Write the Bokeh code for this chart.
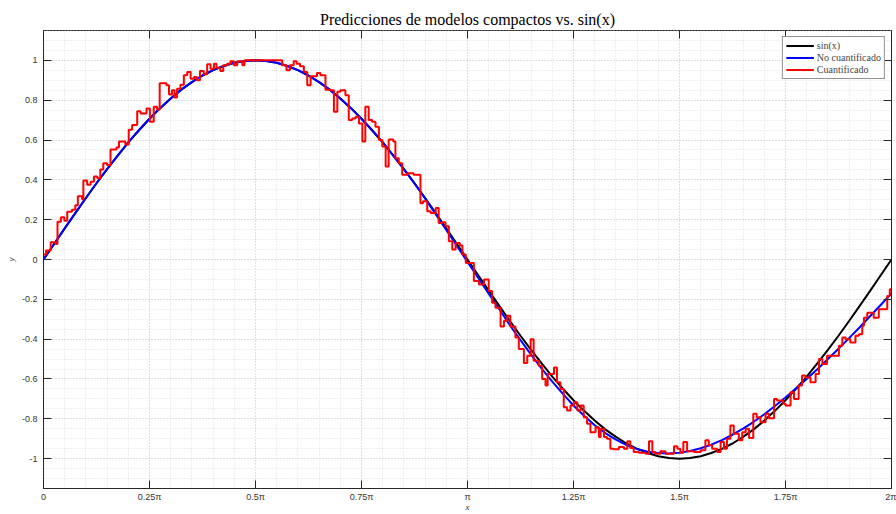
from bokeh.plotting import figure
from bokeh.models import Range1d, FixedTicker, LinearAxis, Legend, LegendItem
from bokeh.embed import file_html
from bokeh.resources import INLINE

# x in units of pi
curve_x = [0.000, 0.025, 0.050, 0.075, 0.100, 0.125, 0.150, 0.175, 0.200, 0.225,
           0.250, 0.275, 0.300, 0.325, 0.350, 0.375, 0.400, 0.425, 0.450, 0.475,
           0.500, 0.525, 0.550, 0.575, 0.600, 0.625, 0.650, 0.675, 0.700, 0.725,
           0.750, 0.775, 0.800, 0.825, 0.850, 0.875, 0.900, 0.925, 0.950, 0.975,
           1.000, 1.025, 1.050, 1.075, 1.100, 1.125, 1.150, 1.175, 1.200, 1.225,
           1.250, 1.275, 1.300, 1.325, 1.350, 1.375, 1.400, 1.425, 1.450, 1.475,
           1.500, 1.525, 1.550, 1.575, 1.600, 1.625, 1.650, 1.675, 1.700, 1.725,
           1.750, 1.775, 1.800, 1.825, 1.850, 1.875, 1.900, 1.925, 1.950, 1.975,
           2.000]

sin_y = [0.000, 0.078, 0.156, 0.233, 0.309, 0.383, 0.454, 0.522, 0.588, 0.649,
         0.707, 0.760, 0.809, 0.853, 0.891, 0.924, 0.951, 0.972, 0.988, 0.997,
         1.000, 0.997, 0.988, 0.972, 0.951, 0.924, 0.891, 0.853, 0.809, 0.760,
         0.707, 0.649, 0.588, 0.522, 0.454, 0.383, 0.309, 0.233, 0.156, 0.078,
         0.000, -0.078, -0.156, -0.233, -0.309, -0.383, -0.454, -0.522, -0.588, -0.649,
         -0.707, -0.760, -0.809, -0.853, -0.891, -0.924, -0.951, -0.972, -0.988, -0.997,
         -1.000, -0.997, -0.988, -0.972, -0.951, -0.924, -0.891, -0.853, -0.809, -0.760,
         -0.707, -0.649, -0.588, -0.522, -0.454, -0.383, -0.309, -0.233, -0.156, -0.078,
         0.000]

nq_y = [0.000, 0.078, 0.156, 0.233, 0.309, 0.383, 0.454, 0.522, 0.588, 0.649,
        0.707, 0.760, 0.809, 0.853, 0.891, 0.924, 0.951, 0.972, 0.988, 0.997,
        1.000, 0.997, 0.988, 0.972, 0.951, 0.924, 0.891, 0.853, 0.809, 0.760,
        0.707, 0.649, 0.588, 0.522, 0.454, 0.382, 0.307, 0.228, 0.148, 0.068,
        -0.012, -0.092, -0.172, -0.250, -0.330, -0.405, -0.478, -0.548, -0.613, -0.675,
        -0.733, -0.785, -0.832, -0.872, -0.905, -0.932, -0.952, -0.965, -0.972, -0.974,
        -0.970, -0.962, -0.948, -0.930, -0.907, -0.880, -0.849, -0.815, -0.777, -0.736,
        -0.693, -0.647, -0.600, -0.551, -0.500, -0.448, -0.395, -0.340, -0.284, -0.227,
        -0.170]

q_x = [0.000, 0.006, 0.017, 0.029, 0.033, 0.041, 0.049, 0.056, 0.067, 0.075,
       0.081, 0.091, 0.094, 0.103, 0.111, 0.119, 0.127, 0.134, 0.141, 0.150,
       0.158, 0.172, 0.178, 0.193, 0.201, 0.209, 0.221, 0.229, 0.243, 0.251,
       0.260, 0.268, 0.274, 0.290, 0.296, 0.303, 0.309, 0.315, 0.323, 0.331,
       0.339, 0.347, 0.355, 0.362, 0.369, 0.378, 0.386, 0.394, 0.402, 0.408,
       0.417, 0.424, 0.433, 0.441, 0.449, 0.457, 0.469, 0.474, 0.563, 0.573,
       0.581, 0.590, 0.597, 0.605, 0.614, 0.622, 0.630, 0.645, 0.653, 0.665,
       0.677, 0.685, 0.693, 0.700, 0.712, 0.720, 0.728, 0.736, 0.744, 0.752,
       0.759, 0.767, 0.775, 0.783, 0.791, 0.799, 0.807, 0.814, 0.825, 0.830,
       0.838, 0.846, 0.858, 0.873, 0.889, 0.895, 0.905, 0.913, 0.925, 0.932,
       0.940, 0.948, 0.956, 0.964, 0.972, 0.982, 0.988, 0.996, 1.015, 1.027,
       1.039, 1.050, 1.058, 1.066, 1.078, 1.086, 1.094, 1.101, 1.113, 1.121,
       1.133, 1.141, 1.149, 1.156, 1.168, 1.176, 1.184, 1.189, 1.204, 1.211,
       1.219, 1.227, 1.235, 1.243, 1.251, 1.259, 1.267, 1.274, 1.282, 1.290,
       1.302, 1.310, 1.314, 1.322, 1.329, 1.337, 1.345, 1.357, 1.369, 1.377,
       1.384, 1.392, 1.404, 1.420, 1.428, 1.436, 1.443, 1.455, 1.467, 1.487,
       1.495, 1.502, 1.509, 1.518, 1.534, 1.550, 1.561, 1.569, 1.577, 1.589,
       1.597, 1.605, 1.612, 1.620, 1.628, 1.640, 1.648, 1.656, 1.664, 1.674,
       1.682, 1.691, 1.703, 1.711, 1.723, 1.730, 1.745, 1.750, 1.762, 1.770,
       1.781, 1.789, 1.797, 1.809, 1.821, 1.829, 1.837, 1.848, 1.876, 1.884,
       1.892, 1.903, 1.915, 1.923, 1.931, 1.935, 1.943, 1.958, 1.970, 1.990,
       1.996, 2.000]

q_y = [0.025, 0.045, 0.087, 0.078, 0.190, 0.212, 0.195, 0.240, 0.250, 0.272,
       0.318, 0.302, 0.397, 0.375, 0.390, 0.417, 0.408, 0.452, 0.483, 0.475,
       0.553, 0.562, 0.592, 0.578, 0.652, 0.675, 0.744, 0.733, 0.758, 0.692,
       0.767, 0.753, 0.885, 0.875, 0.828, 0.850, 0.813, 0.858, 0.877, 0.925,
       0.942, 0.908, 0.917, 0.900, 0.947, 0.930, 0.980, 0.958, 0.983, 0.963,
       0.947, 0.975, 0.983, 0.995, 0.975, 0.995, 0.975, 1.000, 0.975, 0.950,
       0.975, 0.995, 0.983, 0.970, 0.942, 0.875, 0.920, 0.937, 0.925, 0.853,
       0.850, 0.742, 0.842, 0.850, 0.825, 0.700, 0.708, 0.717, 0.683, 0.592,
       0.767, 0.700, 0.692, 0.667, 0.600, 0.567, 0.467, 0.603, 0.592, 0.508,
       0.483, 0.425, 0.433, 0.425, 0.283, 0.292, 0.242, 0.233, 0.258, 0.183,
       0.187, 0.167, 0.092, 0.050, 0.083, 0.070, 0.025, -0.017, -0.108, -0.125,
       -0.100, -0.158, -0.217, -0.242, -0.337, -0.308, -0.283, -0.337, -0.392, -0.450,
       -0.520, -0.483, -0.400, -0.508, -0.533, -0.600, -0.633, -0.575, -0.542, -0.617,
       -0.650, -0.742, -0.758, -0.733, -0.717, -0.758, -0.733, -0.792, -0.825, -0.867,
       -0.842, -0.892, -0.850, -0.892, -0.900, -0.950, -0.953, -0.942, -0.950, -0.913,
       -0.947, -0.967, -0.970, -0.975, -0.913, -0.967, -0.975, -0.963, -0.975, -0.938,
       -0.950, -0.970, -0.917, -0.963, -0.967, -0.958, -0.908, -0.933, -0.950, -0.967,
       -0.917, -0.950, -0.900, -0.833, -0.875, -0.908, -0.867, -0.850, -0.897, -0.775,
       -0.792, -0.817, -0.775, -0.797, -0.700, -0.708, -0.725, -0.733, -0.667, -0.700,
       -0.633, -0.583, -0.592, -0.617, -0.575, -0.500, -0.525, -0.483, -0.433, -0.392,
       -0.400, -0.417, -0.383, -0.375, -0.333, -0.292, -0.267, -0.292, -0.250, -0.183,
       -0.150, -0.150]

x_ticks = [0, 0.25, 0.5, 0.75, 1.0, 1.25, 1.5, 1.75, 2.0]
x_tick_labels = ["0", "0.25π", "0.5π", "0.75π", "π", "1.25π", "1.5π", "1.75π", "2π"]
x_minor = [0.05 * i for i in range(41)]
y_ticks = [-1.0, -0.8, -0.6, -0.4, -0.2, 0.0, 0.2, 0.4, 0.6, 0.8, 1.0]
y_tick_labels = ["-1", "-0.8", "-0.6", "-0.4", "-0.2", "0", "0.2", "0.4", "0.6", "0.8", "1"]
y_minor = [-1.15 + 0.05 * i for i in range(47)]

AX = "#262626"
p = figure(width=896, height=514, x_range=Range1d(0, 2), y_range=Range1d(-1.15, 1.15),
           output_backend="svg", toolbar_location=None,
           min_border_left=43, min_border_right=5, min_border_top=30, min_border_bottom=25)
p.background_fill_color = "white"
p.border_fill_color = "white"
p.outline_line_color = AX
p.outline_line_width = 1

p.title.text = "Predicciones de modelos compactos vs. sin(x)"
p.title.align = "center"
p.title.text_font = "Liberation Serif"
p.title.text_font_size = "16px"
p.title.text_font_style = "normal"
p.title.text_color = "black"
p.title.standoff = 6

xt = FixedTicker(ticks=x_ticks, minor_ticks=x_minor)
yt = FixedTicker(ticks=y_ticks, minor_ticks=y_minor)

for ax in (p.xaxis[0], p.yaxis[0]):
    ax.axis_line_color = AX
    ax.major_tick_line_color = AX
    ax.major_tick_in = 8
    ax.major_tick_out = 0
    ax.minor_tick_in = 0
    ax.minor_tick_out = 0
    ax.major_label_text_font = "Liberation Sans"
    ax.major_label_text_font_size = "9px"
    ax.major_label_text_color = "#333333"
    ax.axis_label_text_font = "Liberation Serif"
    ax.axis_label_text_font_style = "italic"
    ax.axis_label_text_font_size = "9px"
    ax.axis_label_text_color = "#333333"
p.xaxis[0].ticker = xt
p.yaxis[0].ticker = yt
p.xaxis[0].major_label_overrides = {t: l for t, l in zip(x_ticks, x_tick_labels)}
p.yaxis[0].major_label_overrides = {t: l for t, l in zip(y_ticks, y_tick_labels)}
p.xaxis[0].major_label_standoff = 3
p.yaxis[0].major_label_standoff = 6
p.xaxis[0].axis_label = "x"
p.yaxis[0].axis_label = "y"
p.xaxis[0].axis_label_standoff = -3
p.yaxis[0].axis_label_standoff = 3

for loc, tk, tks in (("above", xt, x_ticks), ("right", yt, y_ticks)):
    ax = LinearAxis(ticker=tk)
    ax.axis_line_color = None
    ax.major_tick_line_color = AX
    ax.major_tick_in = 8
    ax.major_tick_out = 0
    ax.minor_tick_in = 0
    ax.minor_tick_out = 0
    ax.major_label_overrides = {t: "" for t in tks}
    ax.major_label_text_color = None
    ax.major_label_text_font_size = "1px"
    ax.major_label_standoff = 0
    p.add_layout(ax, loc)

p.xgrid.ticker = xt
p.ygrid.ticker = yt
for g in (p.xgrid[0], p.ygrid[0]):
    g.grid_line_color = "#cfcfcf"
    g.grid_line_dash = "1 2"
    g.grid_line_width = 1
    g.minor_grid_line_color = "#dedede"
    g.minor_grid_line_dash = "1 2"
    g.minor_grid_line_width = 1

r_sin = p.line(curve_x, sin_y, line_color="black", line_width=2)
r_nq = p.line(curve_x, nq_y, line_color="#0000ff", line_width=2)
r_q = p.step(q_x, q_y, mode="after", line_color="#ff0000", line_width=2)

legend = Legend(items=[LegendItem(label="sin(x)", renderers=[r_sin]),
                       LegendItem(label="No cuantificado", renderers=[r_nq]),
                       LegendItem(label="Cuantificado", renderers=[r_q])],
                location="top_right")
legend.label_text_font = "Liberation Serif"
legend.label_text_font_size = "10px"
legend.label_height = 11
legend.glyph_height = 11
legend.glyph_width = 28
legend.spacing = 1
legend.padding = 3
legend.margin = 6
legend.label_standoff = 3
legend.border_line_color = AX
legend.border_line_width = 1
legend.background_fill_alpha = 1
p.add_layout(legend)

open("out.html", "w").write(file_html(p, INLINE))
